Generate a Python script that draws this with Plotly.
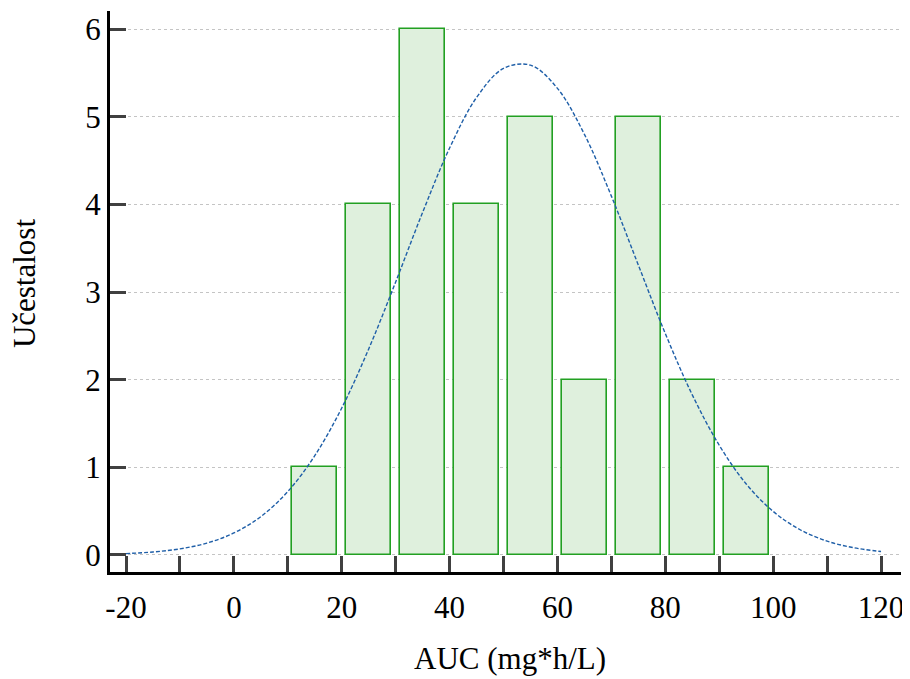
import plotly.graph_objects as go

# Histogram data
bin_centers = [15, 25, 35, 45, 55, 65, 75, 85, 95]
counts = [1, 4, 6, 4, 5, 2, 5, 2, 1]

# Fitted normal curve
curve_x = [-20, -15, -10, -5, 0, 5, 10, 15, 20, 25, 30, 35, 40, 45, 50, 55,
           60, 65, 70, 75, 80, 85, 90, 95, 100, 105, 110, 115, 120]
curve_y = [0.016, 0.034, 0.070, 0.136, 0.251, 0.438, 0.724, 1.133, 1.677, 2.351,
           3.115, 3.909, 4.643, 5.219, 5.551, 5.588, 5.323, 4.799, 4.094, 3.307,
           2.526, 1.827, 1.252, 0.810, 0.497, 0.288, 0.158, 0.082, 0.040]

x_tickvals = [-20, -10, 0, 10, 20, 30, 40, 50, 60, 70, 80, 90, 100, 110, 120]
x_ticktext = ["-20", "", "0", "", "20", "", "40", "", "60", "", "80", "", "100", "", "120"]
y_tickvals = [0, 1, 2, 3, 4, 5, 6]

x_title = "AUC (mg*h/L)"
y_title = "Učestalost"

font_family = "Liberation Serif, Times New Roman, serif"

fig = go.Figure()
fig.add_trace(go.Bar(
    x=bin_centers, y=counts, width=8.3,
    marker=dict(color="#dff0dd", line=dict(color="#22a022", width=1.6)),
    showlegend=False, hoverinfo="x+y",
))
fig.add_trace(go.Scatter(
    x=curve_x, y=curve_y, mode="lines",
    line=dict(color="#1f5fa8", width=1.4, dash="4px,2px", shape="spline"),
    showlegend=False,
))

fig.update_layout(
    width=902, height=671,
    margin=dict(l=102, r=9, t=3, b=107, autoexpand=False),
    plot_bgcolor="white", paper_bgcolor="white",
    font=dict(family=font_family, color="black", size=31),
    bargap=0,
    annotations=[
        dict(text=x_title, xref="paper", yref="paper", x=0.5057, y=-0.1533,
             xanchor="center", yanchor="middle", showarrow=False,
             font=dict(size=31, family=font_family, color="black")),
        dict(text=y_title, xref="paper", yref="paper", x=-0.1087, y=0.515,
             xanchor="center", yanchor="middle", showarrow=False, textangle=-90,
             font=dict(size=31, family=font_family, color="black")),
    ],
)
fig.update_xaxes(
    range=[-22.97, 123.7], automargin=False,
    tickvals=x_tickvals, ticktext=x_ticktext,
    ticks="inside", ticklen=16, tickwidth=3, tickcolor="#404040",
    showline=True, linecolor="black", linewidth=3,
    showgrid=False, zeroline=False,
    tickfont=dict(size=31, family=font_family),
    ticklabelstandoff=6,
)
fig.update_yaxes(
    range=[-0.194, 6.206], automargin=False,
    tickvals=y_tickvals,
    ticks="inside", ticklen=16, tickwidth=3, tickcolor="#404040",
    showline=True, linecolor="black", linewidth=3,
    showgrid=True, gridcolor="#c4c4c4", griddash="dot", gridwidth=1,
    zeroline=False,
    tickfont=dict(size=31, family=font_family),
)

fig.write_html("out.html")
